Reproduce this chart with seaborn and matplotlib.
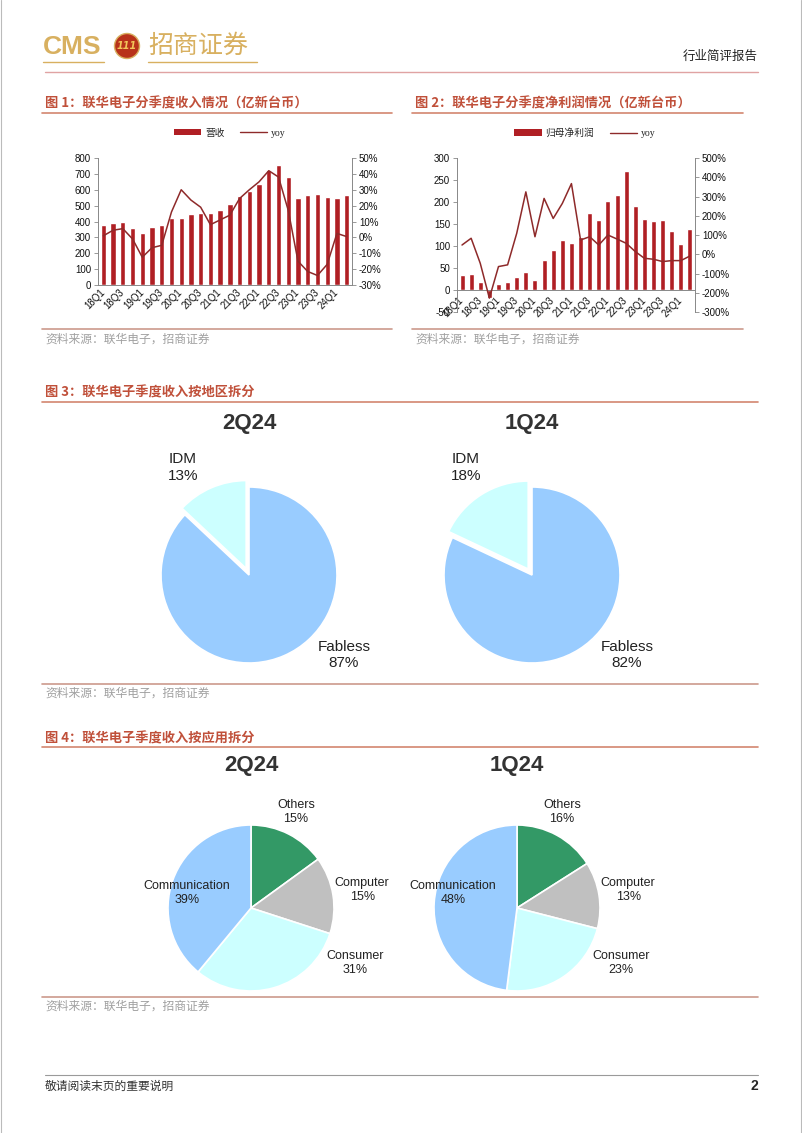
import numpy as np
import pandas as pd
import seaborn as sns
import matplotlib
matplotlib.use("Agg")
import matplotlib.pyplot as plt
from matplotlib.patches import Patch, Ellipse
from matplotlib.lines import Line2D

# ---- data ----
quarters = ["18Q1", "18Q2", "18Q3", "18Q4", "19Q1", "19Q2", "19Q3", "19Q4",
            "20Q1", "20Q2", "20Q3", "20Q4", "21Q1", "21Q2", "21Q3", "21Q4",
            "22Q1", "22Q2", "22Q3", "22Q4", "23Q1", "23Q2", "23Q3", "23Q4",
            "24Q1", "24Q2"]
revenue = [380, 392, 398, 358, 328, 365, 380, 420, 425, 445, 452, 455, 475,
           512, 560, 595, 635, 722, 755, 680, 545, 565, 572, 552, 548, 568]
revenue_yoy = [1, 4.5, 5.5, -1, -12.5, -6.5, -5, 16, 30, 23.5, 19, 8, 11,
               14, 24.5, 30, 35, 42, 38, 17, -15, -21.5, -24, -17, 2.5, 0.5]
net_profit = [35, 37, 18, -18, 14, 19, 30, 40, 23, 68, 92, 113, 106, 120,
              176, 160, 202, 216, 270, 191, 162, 157, 160, 133, 105, 139]
profit_yoy = [48, 83, -47, -228, -64, -55, 109, 324, 91, 290, 186, 264, 367,
              74, 91, 48, 100, 79, 57, 14, -21, -26, -38, -33, -33, -9]

region_labels = ["Fabless", "IDM"]
region_2q24 = [87, 13]
region_1q24 = [82, 18]

app_labels = ["Others", "Computer", "Consumer", "Communication"]
app_2q24 = [15, 15, 31, 39]
app_1q24 = [16, 13, 23, 48]

# ---- styles ----
W, H = 802, 1133
BAR = "#B01F24"
LINE = "#8E2A2A"
TITLE_RED = "#C0503A"
RULE_RED = "#D3866F"
GOLD = "#D8B060"
GREY_TXT = "#A0A0A0"
region_colors = ["#99CCFF", "#CCFFFF"]
app_colors = ["#339966", "#C0C0C0", "#CCFFFF", "#99CCFF"]

sns.set_theme(style="white")
plt.rcParams["font.family"] = ["Liberation Sans", "Noto Sans CJK SC"]
plt.rcParams["axes.unicode_minus"] = False
CJK = ["Noto Sans CJK SC", "Liberation Sans"]

fig = plt.figure(figsize=(W / 100, H / 100), dpi=100)


def fx(x):
    return x / W


def fy(y):
    return 1 - y / H


def box(l, t, r, b):
    return [l / W, 1 - b / H, (r - l) / W, (b - t) / H]


def hline(x0, x1, y, color, lw=1.0):
    fig.add_artist(Line2D([fx(x0), fx(x1)], [fy(y), fy(y)], color=color,
                          lw=lw, transform=fig.transFigure))


def text(x, y, s, **kw):
    kw.setdefault("family", CJK)
    fig.text(fx(x), fy(y), s, **kw)


# ---- page frame, header, footer ----
fig.add_artist(Line2D([fx(0.5), fx(0.5)], [0, 1], color="#BBBBBB", lw=0.8,
                      transform=fig.transFigure))
fig.add_artist(Line2D([fx(800.5), fx(800.5)], [0, 1], color="#BBBBBB", lw=0.8,
                      transform=fig.transFigure))

text(43, 47, "CMS", fontsize=19, color=GOLD, va="center", weight="bold",
     family="Liberation Sans")
fig.add_artist(Ellipse((fx(127), fy(46)), 25 / W, 25 / H, transform=fig.transFigure,
                       facecolor="#B8321A", edgecolor=GOLD, lw=1))
text(127, 46, "111", fontsize=7, color="#F2C65A", ha="center", va="center",
     weight="bold", style="italic", family="DejaVu Sans")
text(148, 46, "招商证券", fontsize=18, color=GOLD, va="center")
hline(43, 104, 62, GOLD, 1.0)
hline(148, 257, 62, GOLD, 1.0)
hline(45, 758, 72, "#E0A3A3", 1.0)
text(758, 56, "行业简评报告", fontsize=9, color="#222222", ha="right", va="center")

hline(45, 758, 1075, "#9A9A9A", 0.8)
text(45, 1086, "敬请阅读末页的重要说明", fontsize=8.5, color="#333333", va="center")
text(758, 1086, "2", fontsize=10, weight="bold", ha="right", va="center",
     family="Liberation Sans")

# ---- section titles and sources ----
text(45, 103, "图 1：联华电子分季度收入情况（亿新台币）", fontsize=9.5,
     color=TITLE_RED, va="center", weight="bold")
hline(42, 392, 113, RULE_RED, 1.2)
text(415, 103, "图 2：联华电子分季度净利润情况（亿新台币）", fontsize=9.5,
     color=TITLE_RED, va="center", weight="bold")
hline(412, 743, 113, RULE_RED, 1.2)
hline(42, 392, 329, "#CC9A8C", 1.2)
hline(412, 743, 329, "#CC9A8C", 1.2)
text(45, 339, "资料来源：联华电子，招商证券", fontsize=8.5, color=GREY_TXT, va="center")
text(415, 339, "资料来源：联华电子，招商证券", fontsize=8.5, color=GREY_TXT, va="center")

text(45, 392, "图 3：联华电子季度收入按地区拆分", fontsize=9.5,
     color=TITLE_RED, va="center", weight="bold")
hline(42, 758, 402, RULE_RED, 1.2)
hline(42, 758, 684, "#CC9A8C", 1.2)
text(45, 693, "资料来源：联华电子，招商证券", fontsize=8.5, color=GREY_TXT, va="center")

text(45, 738, "图 4：联华电子季度收入按应用拆分", fontsize=9.5,
     color=TITLE_RED, va="center", weight="bold")
hline(42, 758, 747, RULE_RED, 1.2)
hline(42, 758, 997, "#CC9A8C", 1.2)
text(45, 1006, "资料来源：联华电子，招商证券", fontsize=8.5, color=GREY_TXT, va="center")


# ---- bar + yoy combo charts ----
def combo(rect, values, yoy, ylim, yticks, rlim, rticks, zero_axis):
    n = len(quarters)
    ax = fig.add_axes(rect)
    sns.barplot(x=quarters, y=values, color=BAR, saturation=1, width=0.55, ax=ax)
    ax2 = ax.twinx()
    sns.lineplot(x=np.arange(n), y=yoy, color=LINE, lw=1.1, ax=ax2)
    ax.set_xlim(-0.55, n - 0.45)
    ax.set_ylim(*ylim)
    ax.set_yticks(yticks)
    ax2.set_ylim(*rlim)
    ax2.set_yticks(rticks)
    ax2.set_yticklabels([f"{t}%" for t in rticks])
    if zero_axis:
        ax.spines["bottom"].set_position(("data", 0))
    ax.set_xticks(range(0, n, 2))
    ax.set_xticklabels(quarters[::2], rotation=45, ha="right", va="center",
                       rotation_mode="anchor")
    ax.set_xlabel("")
    ax.set_ylabel("")
    for a in (ax, ax2):
        a.tick_params(labelsize=7, length=3, width=0.6, color="#888888",
                      labelcolor="#111111", pad=2)
        for s in a.spines.values():
            s.set_color("#888888")
            s.set_linewidth(0.7)
        a.spines["top"].set_visible(False)
        a.grid(False)
    ax.tick_params(axis="x", length=2 if zero_axis else 0, pad=4)
    ax.spines["right"].set_visible(False)
    ax2.spines["left"].set_visible(False)
    ax2.spines["bottom"].set_visible(False)
    ax.patch.set_alpha(0)
    return ax


combo(box(98, 158, 352, 285), revenue, revenue_yoy, (0, 800),
      range(0, 801, 100), (-30, 50), range(-30, 51, 10), False)
combo(box(457, 158, 695, 312), net_profit, profit_yoy, (-50, 300),
      range(-50, 301, 50), (-300, 500), range(-300, 501, 100), True)

legend_font = {"family": ["Liberation Serif", "Noto Sans CJK SC"], "size": 7}
for cx, name in [(230, "营收"), (585, "归母净利润")]:
    handles = [Patch(facecolor=BAR, edgecolor="none"), Line2D([0], [0], color=LINE, lw=1)]
    fig.legend(handles, [name, "yoy"], loc="center", ncol=2, frameon=False,
               bbox_to_anchor=(fx(cx), fy(133)), prop=legend_font,
               handlelength=2.8, handleheight=0.6, handletextpad=0.4,
               columnspacing=1.6)


# ---- pies ----
def pie(cx, cy, R, values, colors, labels, label_pos, fontsize, explode=None, span=1.6):
    ax = fig.add_axes([(cx - span * R) / W, 1 - (cy + span * R) / H,
                       2 * span * R / W, 2 * span * R / H])
    ax.pie(values, colors=colors, startangle=90, counterclock=False,
           explode=explode, wedgeprops={"edgecolor": "white", "linewidth": 1.2})
    ax.set_xlim(-span, span)
    ax.set_ylim(-span, span)
    ax.axis("off")
    for lab, v, (px, py) in zip(labels, values, label_pos):
        ax.text(px, py, f"{lab}\n{v}%", ha="center", va="center",
                fontsize=fontsize, color="#222222", linespacing=1.25,
                family="Liberation Sans")


region_pos = [(1.08, -0.91), (-0.75, 1.22)]
app_pos = [(0.54, 1.16), (1.34, 0.22), (1.25, -0.66), (-0.77, 0.18)]

for cx, title, vals in [(249, "2Q24", region_2q24), (532, "1Q24", region_1q24)]:
    text(cx, 423, title, fontsize=16, weight="bold", ha="center", va="center",
         color="#333333", family="Liberation Sans")
    pie(cx, 575, 88, vals, region_colors, region_labels, region_pos, 11,
        explode=[0, 0.08])

for cx, title, vals in [(251, "2Q24", app_2q24), (517, "1Q24", app_1q24)]:
    text(cx, 766, title, fontsize=16, weight="bold", ha="center", va="center",
         color="#333333", family="Liberation Sans")
    pie(cx, 908, 83, vals, app_colors, app_labels, app_pos, 9)

fig.savefig("out.png", dpi=100)
